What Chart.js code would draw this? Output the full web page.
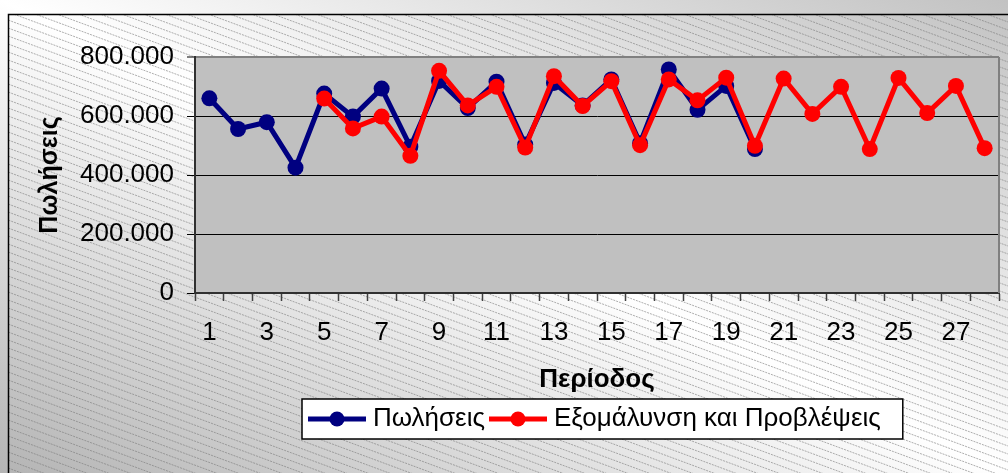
<!DOCTYPE html>
<html><head><meta charset="utf-8">
<script src="https://cdn.jsdelivr.net/npm/chart.js@4/dist/chart.umd.min.js"></script>
<style>html,body{margin:0;padding:0;background:#fff}#wrap{width:1008px;height:473px}</style>
</head><body><div id="wrap"><canvas id="c" width="1008" height="473"></canvas></div>
<script>
// ---- data ----
const periods = ['1','2','3','4','5','6','7','8','9','10','11','12','13','14','15','16','17','18','19','20','21','22','23','24','25','26','27','28'];
const sales = [660000,556000,579000,425000,676000,598000,693000,496000,719000,627000,716000,503000,712000,636000,724000,508000,758000,621000,702000,488000];
const forecast = [null,null,null,null,659000,558000,598000,465000,753000,636000,699000,493000,735000,634000,718000,501000,724000,653000,730000,499000,727000,607000,699000,488000,729000,610000,702000,491000];
const seriesNames = ['Πωλήσεις','Εξομάλυνση και Προβλέψεις'];
const yTitle = 'Πωλήσεις';
const xTitle = 'Περίοδος';

const FONT = "'Liberation Sans', Arial, sans-serif";

function legendMarker(color){
  const c = document.createElement('canvas');
  c.width = 58; c.height = 18;
  const g = c.getContext('2d');
  g.strokeStyle = color; g.lineWidth = 5;
  g.beginPath(); g.moveTo(0,9); g.lineTo(58,9); g.stroke();
  g.fillStyle = color;
  g.beginPath(); g.arc(29,9,7.5,0,Math.PI*2); g.fill();
  return c;
}

const bgPlugin = {
  id: 'bgPlugin',
  afterLayout(chart){
    const lg = chart.legend;
    if (!lg || !lg.lineWidths) return;
    const pad = lg.options.labels.padding;
    const startX = (lg.left + pad + lg.right - lg.lineWidths[0]) / 2;
    const shift = 314 - startX;
    lg.left += shift; lg.right += shift;
  },
  beforeDraw(chart){
    const ctx = chart.ctx, W = chart.width, H = chart.height;
    ctx.save();
    const grad = ctx.createLinearGradient(686,-151,322,624);
    grad.addColorStop(0,'#c2c2c2');
    grad.addColorStop(0.5,'#ffffff');
    grad.addColorStop(1,'#b4b4b4');
    ctx.fillStyle = grad;
    ctx.fillRect(0,0,W,H);
    ctx.beginPath();
    ctx.rect(8,14,W-8,H-14);
    ctx.clip();
    ctx.strokeStyle = 'rgba(120,120,120,0.6)';
    ctx.lineWidth = 1;
    ctx.setLineDash([2,1]);
    const slope = 0.37;
    for (let y0 = -W*slope - 10; y0 < H + 10; y0 += 8) {
      ctx.beginPath();
      ctx.moveTo(0, y0);
      ctx.lineTo(W, y0 + W*slope);
      ctx.stroke();
    }
    ctx.restore();
    ctx.save();
    ctx.strokeStyle = '#000';
    ctx.lineWidth = 1.5;
    ctx.beginPath();
    ctx.moveTo(8.5, H+2); ctx.lineTo(8.5, 14.5); ctx.lineTo(W+2, 14.5);
    ctx.stroke();
    const a = chart.chartArea;
    ctx.fillStyle = '#c0c0c0';
    ctx.fillRect(a.left, a.top, a.right - a.left, a.bottom - a.top);
    const hb = chart.legend && chart.legend.legendHitBoxes;
    if (hb && hb.length) {
      const l = hb[0].left - 12;
      const last = hb[hb.length-1];
      const r = last.left + last.width + 22;
      const t = hb[0].top - 7;
      const b = hb[0].top + 33;
      ctx.fillStyle = '#fff';
      ctx.fillRect(l, t, r - l, b - t);
      ctx.strokeStyle = '#000';
      ctx.lineWidth = 1.5;
      ctx.strokeRect(l, t, r - l, b - t);
    }
    ctx.restore();
  },
  beforeDatasetsDraw(chart){
    const ctx = chart.ctx, a = chart.chartArea;
    ctx.save();
    ctx.strokeStyle = '#808080';
    ctx.lineWidth = 2;
    ctx.beginPath();
    ctx.moveTo(a.right, a.top); ctx.lineTo(a.right, a.bottom);
    ctx.stroke();
    ctx.restore();
  }
};

new Chart(document.getElementById('c'), {
  type: 'line',
  data: {
    labels: periods,
    datasets: [
      { label: seriesNames[0], data: sales, borderColor: '#000080', backgroundColor: '#000080',
        borderWidth: 5, pointRadius: 8, pointHoverRadius: 8, pointBorderWidth: 0, tension: 0, order: 1,
        pointStyle: 'circle' },
      { label: seriesNames[1], data: forecast, borderColor: '#ff0000', backgroundColor: '#ff0000',
        borderWidth: 5, pointRadius: 8, pointHoverRadius: 8, pointBorderWidth: 0, tension: 0, order: 0,
        pointStyle: 'circle' }
    ]
  },
  options: {
    responsive: false,
    animation: false,
    devicePixelRatio: 1,
    layout: { padding: { left: 35.6, top: 57, right: 9, bottom: 31 } },
    plugins: {
      tooltip: { enabled: false },
      legend: {
        position: 'bottom',
        labels: {
          usePointStyle: true,
          pointStyleWidth: 46,
          padding: 10,
          color: '#000',
          font: { family: FONT, size: 26 },
          sort: (a, b) => a.datasetIndex - b.datasetIndex,
          generateLabels: (chart) => chart.data.datasets.map((ds, i) => ({
            text: ds.label,
            datasetIndex: i,
            pointStyle: legendMarker(ds.borderColor),
            fillStyle: ds.borderColor,
            strokeStyle: ds.borderColor,
            lineWidth: 0,
            fontColor: '#000',
            hidden: false
          }))
        }
      }
    },
    scales: {
      x: {
        offset: true,
        afterFit: (s) => { s.height = 103; },
        grid: { offset: true, drawOnChartArea: false, drawTicks: true, tickLength: 8, tickColor: '#404040', tickWidth: 1.5 },
        border: { display: true, color: '#303030', width: 2 },
        ticks: {
          autoSkip: false, maxRotation: 0, minRotation: 0, padding: 16, color: '#000',
          font: { family: FONT, size: 26 },
          callback: (v, i) => (i % 2 === 0 ? periods[i] : '')
        },
        title: { display: true, text: xTitle, color: '#000',
          font: { family: FONT, size: 26, weight: 'bold' }, padding: { top: 16, bottom: 0.4 } }
      },
      y: {
        min: 0, max: 800000,
        afterFit: (s) => { s.width = 159.4; },
        grid: {
          color: (c) => c.tick && c.tick.value === 800000 ? '#808080' : (c.tick && c.tick.value === 0 ? 'rgba(0,0,0,0)' : '#000'),
          lineWidth: (c) => c.tick && c.tick.value === 800000 ? 2 : 1,
          drawTicks: true, tickLength: 8, tickColor: '#000', tickWidth: 1
        },
        border: { display: true, color: '#303030', width: 2 },
        ticks: {
          stepSize: 200000, padding: 13, color: '#000',
          font: { family: FONT, size: 26 },
          callback: (v) => v === 0 ? '0' : String(v).replace(/\B(?=(\d{3})+(?!\d))/g, '.')
        },
        title: { display: true, text: yTitle, color: '#000',
          font: { family: FONT, size: 25, weight: 'bold' }, padding: { top: 0, bottom: 15 } }
      }
    }
  },
  plugins: [bgPlugin]
});
</script>
</body></html>
